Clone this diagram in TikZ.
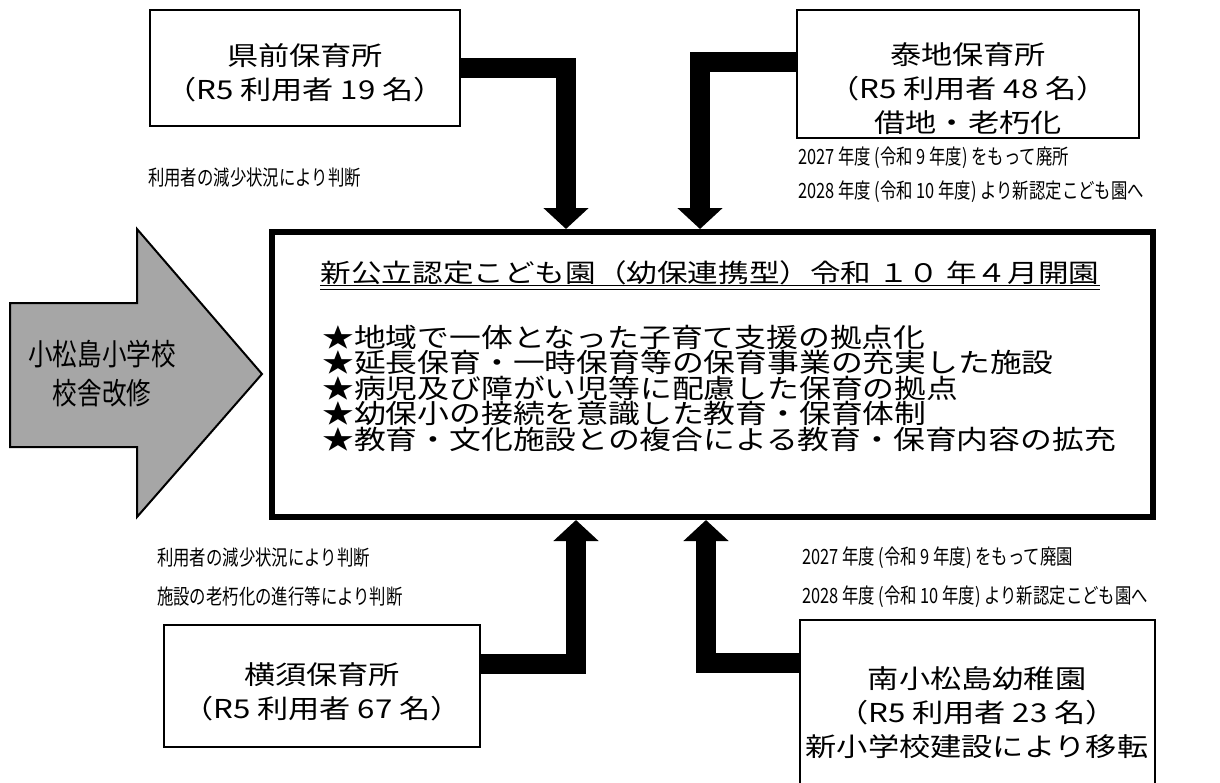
\documentclass[tikz,border=0pt]{standalone}
\usepackage{fontspec}
\usetikzlibrary{arrows.meta,calc}
\newfontfamily\jpwide[FakeStretch=1.2]{Noto Sans CJK JP}
\newfontfamily\jpnar[FakeStretch=0.78]{Noto Sans CJK JP}
\newfontfamily\jparr[FakeStretch=0.82]{Noto Sans CJK JP}
\definecolor{arrgray}{HTML}{A6A6A6}
\tikzset{
  sbox/.style={draw=black, line width=1.5pt, rectangle, inner sep=0pt},
  boxtxt/.style={inner sep=0pt, align=center, font=\jpwide\fontsize{26pt}{34pt}\selectfont},
  note/.style={inner sep=0pt, anchor=west, font=\jpnar\fontsize{21pt}{25pt}\selectfont},
  conn/.style={line width=20pt, -{Triangle[width=44pt,length=21pt]}},
}
\begin{document}
\begin{tikzpicture}[x=1pt,y=-1pt]
\useasboundingbox (0,0) rectangle (1220,782);
% boxes
\node[sbox, minimum width=310pt, minimum height=116pt] (tl) at (305,68) {};
\node[boxtxt] (tltxt) at (305,73) {県前保育所\\（R5 利用者 19 名）};
\node[sbox, minimum width=342pt, minimum height=128pt] (tr) at (968,74) {};
\node[boxtxt] (trtxt) at (968,89) {泰地保育所\\（R5 利用者 48 名）\\借地・老朽化};
\node[sbox, minimum width=316pt, minimum height=122pt] (bl) at (322,686) {};
\node[boxtxt] (bltxt) at (322,692) {横須保育所\\（R5 利用者 67 名）};
\node[sbox, minimum width=355pt, minimum height=186pt] (br) at (977.5,713) {};
\node[boxtxt] (brtxt) at (977,713) {南小松島幼稚園\\（R5 利用者 23 名）\\新小学校建設により移転};
% center box
\node[draw=black, line width=6pt, rectangle, minimum width=881pt, minimum height=285pt, inner sep=0pt] (cb) at (712.5,374.5) {};
\node[inner sep=0pt, font=\jpwide\fontsize{25.5pt}{30pt}\selectfont] (title) at (710,273) {新公立認定こども園（幼保連携型）令和 １０ 年４月開園};
\draw[line width=1.2pt] ($(title.base west)+(0,3)$) -- ($(title.base east)+(0,3)$);
\draw[line width=1.2pt] ($(title.base west)+(0,7)$) -- ($(title.base east)+(0,7)$);
\node[inner sep=0pt, anchor=west, align=left, font=\jpwide\fontsize{26.5pt}{25.5pt}\selectfont] (bul) at (322,388) {★地域で一体となった子育て支援の拠点化\\★延長保育・一時保育等の保育事業の充実した施設\\★病児及び障がい児等に配慮した保育の拠点\\★幼保小の接続を意識した教育・保育体制\\★教育・文化施設との複合による教育・保育内容の拡充};
% gray arrow
\draw[line width=2pt, fill=arrgray, line join=miter] (10,303) -- (137,303) -- (137,229) -- (262,374) -- (137,517) -- (137,447) -- (10,447) -- cycle;
\node[inner sep=0pt, align=center, font=\jparr\fontsize{30pt}{39pt}\selectfont] (arrtxt) at (102,374) {小松島小学校\\校舎改修};
% connectors
\coordinate (c1) at (566,229);
\coordinate (c2) at (700,229);
\coordinate (c3) at (576,520);
\coordinate (c4) at (706,520);
\draw[conn] (tl.east) -| (c1);
\draw[conn] ([yshift=12pt]tr.west) -| (c2);
\draw[conn] ([yshift=22pt]bl.east) -| (c3);
\draw[conn] ([yshift=50pt]br.west) -| (c4);
% notes
\node[note] (n1) at (148,178) {利用者の減少状況により判断};
\node[note] (n2) at (798,158) {2027 年度 (令和 9 年度) をもって廃所};
\node[note] (n3) at (798,192) {2028 年度 (令和 10 年度) より新認定こども園へ};
\node[note] (n4) at (157,558) {利用者の減少状況により判断};
\node[note] (n5) at (157,597) {施設の老朽化の進行等により判断};
\node[note] (n6) at (802,558) {2027 年度 (令和 9 年度) をもって廃園};
\node[note] (n7) at (802,597) {2028 年度 (令和 10 年度) より新認定こども園へ};
\end{tikzpicture}
\end{document}
